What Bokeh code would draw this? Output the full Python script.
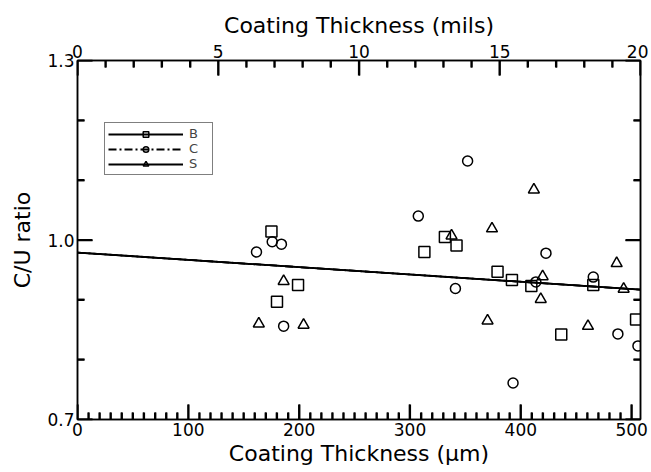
from bokeh.plotting import figure
from bokeh.models import (Range1d, LinearAxis, FixedTicker, Legend, LegendItem,
                          PrintfTickFormatter, CustomJSTickFormatter)
from bokeh.embed import file_html
from bokeh.resources import INLINE

# ---- data ----
b_x = [175, 199, 180, 331.5, 342, 313, 379, 392, 409.5, 465.4, 436.5, 504]
b_y = [1.014, 0.925, 0.897, 1.005, 0.991, 0.980, 0.947, 0.933, 0.923, 0.925, 0.842, 0.867]

c_x = [161.5, 175.7, 184, 186, 307.5, 352, 341, 393, 413.6, 422.7, 465.4, 487.6, 505.7]
c_y = [0.980, 0.997, 0.993, 0.856, 1.040, 1.132, 0.919, 0.761, 0.930, 0.978, 0.938, 0.843, 0.823]

s_x = [163.6, 186, 204, 337.5, 370, 374, 411.8, 418, 419.7, 460.6, 486.5, 492.8]
s_y = [0.860, 0.931, 0.858, 1.007, 0.865, 1.019, 1.084, 0.901, 0.939, 0.856, 0.961, 0.918]

fit_x = [0, 508]
fit_y = [0.979, 0.917]

um_range = [0, 508]
mil_range = [0, 20]
y_range = [0.7, 1.3]
um_major = [0, 100, 200, 300, 400, 500]
um_minor = [v for v in range(10, 501, 10) if v % 100 != 0]
mil_major = [0, 5, 10, 15, 20]
mil_minor = [v for v in range(1, 20) if v % 5 != 0]
y_major = [0.7, 1.0, 1.3]
y_minor = [0.8, 0.9, 1.1, 1.2]

FONT = "DejaVu Sans"
FRAME_W, FRAME_H = 563, 361
BL, BT, BR, BB = 77, 60, 8, 47

p = figure(width=BL + FRAME_W + BR, height=BT + FRAME_H + BB,
           x_range=Range1d(*um_range), y_range=Range1d(*y_range),
           output_backend="svg", toolbar_location=None,
           x_axis_location=None, y_axis_location=None,
           min_border_left=BL, min_border_right=BR, min_border_top=BT, min_border_bottom=BB)
p.extra_x_ranges = {"mils": Range1d(*mil_range)}
p.xgrid.visible = False
p.ygrid.visible = False
p.outline_line_color = "black"
p.outline_line_width = 1.5
p.background_fill_color = "white"
p.border_fill_color = "white"


def style(ax):
    ax.major_tick_in = 15
    ax.major_tick_out = 0
    ax.minor_tick_in = 7
    ax.minor_tick_out = 0
    ax.major_tick_line_color = "black"
    ax.minor_tick_line_color = "black"
    ax.major_tick_line_width = 1.5
    ax.minor_tick_line_width = 1.5
    ax.axis_line_color = "black"
    ax.axis_line_width = 1.5
    ax.major_label_text_font = FONT
    ax.major_label_text_font_size = "17px"
    ax.major_label_text_color = "black"
    ax.major_label_standoff = 3
    ax.axis_label_text_font = FONT
    ax.axis_label_text_font_size = "22px"
    ax.axis_label_text_font_style = "normal"
    ax.axis_label_text_color = "black"


bottom = LinearAxis(ticker=FixedTicker(ticks=um_major, minor_ticks=um_minor),
                    axis_label="Coating Thickness (µm)")
style(bottom)
bottom.axis_label_standoff = 2
p.add_layout(bottom, "below")

top = LinearAxis(x_range_name="mils", ticker=FixedTicker(ticks=mil_major, minor_ticks=mil_minor),
                 axis_label="Coating Thickness (mils)")
style(top)
top.axis_label_standoff = 4
p.add_layout(top, "above")

left = LinearAxis(ticker=FixedTicker(ticks=y_major, minor_ticks=y_minor),
                  formatter=PrintfTickFormatter(format="%.1f"), axis_label="C/U ratio")
style(left)
left.axis_label_standoff = 9
p.add_layout(left, "left")

right = LinearAxis(ticker=FixedTicker(ticks=y_major, minor_ticks=y_minor),
                   formatter=CustomJSTickFormatter(code="return ''"))
style(right)
p.add_layout(right, "right")

# fit lines (the three overlap)
lb = p.line(fit_x, fit_y, line_color="black", line_width=1.8)
lc = p.line(fit_x, fit_y, line_color="black", line_width=1.8, line_dash="8 3 2 3")
ls = p.line(fit_x, fit_y, line_color="black", line_width=1.8)

# series
rb = p.scatter(b_x, b_y, marker="square", size=11, fill_color=None, line_color="black", line_width=1.5)
rc = p.scatter(c_x, c_y, marker="circle", size=10, fill_color=None, line_color="black", line_width=1.5)
rs = p.scatter(s_x, s_y, marker="triangle", size=11, fill_color=None, line_color="black", line_width=1.5)

# inward tick marks as one broken line (NaN gaps), pixel lengths converted to data units
MAJ, MIN = 15, 7
ux = (um_range[1] - um_range[0]) / FRAME_W
uy = (y_range[1] - y_range[0]) / FRAME_H
NAN = float("nan")
tick_x, tick_y = [], []
for ticks, ln in ((um_major, MAJ), (um_minor, MIN)):
    for t in ticks:
        tick_x += [t, t, NAN]
        tick_y += [y_range[0], y_range[0] + ln * uy, NAN]
for ticks, ln in ((mil_major, MAJ), (mil_minor, MIN)):
    for t in ticks:
        xu = t * (um_range[1] - um_range[0]) / (mil_range[1] - mil_range[0])
        tick_x += [xu, xu, NAN]
        tick_y += [y_range[1], y_range[1] - ln * uy, NAN]
for ticks, ln in ((y_major, MAJ), (y_minor, MIN)):
    for t in ticks:
        tick_x += [um_range[0], um_range[0] + ln * ux, NAN]
        tick_y += [t, t, NAN]
        tick_x += [um_range[1], um_range[1] - ln * ux, NAN]
        tick_y += [t, t, NAN]
p.line(tick_x, tick_y, line_color="black", line_width=2.2)

legend = Legend(items=[LegendItem(label="B", renderers=[lb, rb]),
                       LegendItem(label="C", renderers=[lc, rc]),
                       LegendItem(label="S", renderers=[ls, rs])],
                location=(27, 244), orientation="vertical",
                glyph_width=75, glyph_height=14, label_height=14,
                label_text_font=FONT, label_text_font_size="13px",
                label_standoff=6, spacing=0, padding=3, margin=0,
                border_line_color="black", border_line_width=1.2,
                background_fill_color="white", background_fill_alpha=1.0)
p.add_layout(legend, "center")

open("out.html", "w").write(file_html(p, INLINE))
